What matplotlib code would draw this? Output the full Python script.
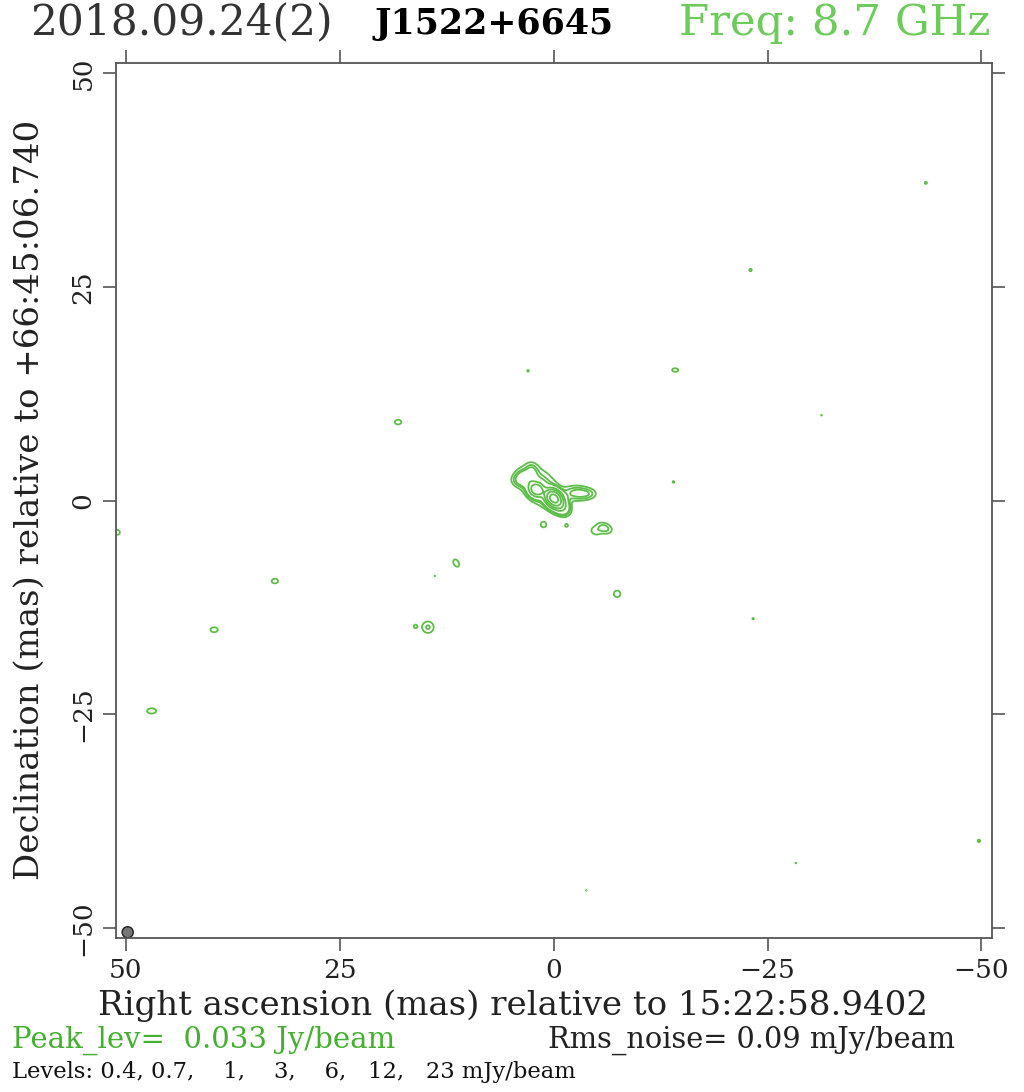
import numpy as np
import matplotlib.pyplot as plt
from matplotlib.patches import Ellipse

# contour levels (mJy/beam)
levels = [0.4, 0.7, 1, 3, 6, 12, 23]

# gaussian components of the map: offsets in mas, peak in mJy/beam, FWHM in mas, angle in deg
comp_x = [0.0, -0.6, 2.0, 3.2, 1.6, 2.6, 4.0, -2.6, -4.0, 1.2, -1.5, -5.9, -4.8,
          -43.5, -23.0, 3.0, -14.2, 18.2, -31.3, -14.0, 51.0, 11.4, 13.9, 32.6,
          -7.4, 39.7, 16.2, 14.7, -23.3, 47.0, -49.7, -28.3, -3.8]
comp_y = [0.3, -0.4, 1.3, 2.6, 1.6, 3.5, 2.4, 0.9, 0.8, -2.8, -2.9, -3.2, -3.6,
          37.2, 27.0, 15.2, 15.3, 9.2, 10.0, 2.2, -3.7, -7.3, -8.8, -9.4,
          -10.9, -15.1, -14.7, -14.8, -13.8, -24.6, -39.8, -42.4, -45.6]
comp_peak = [30.0, 5.0, 10.0, 1.6, 1.2, 0.7, 0.8, 1.1, 0.65, 0.55, 0.43, 0.9, 0.5,
             0.43, 0.44, 0.42, 0.48, 0.55, 0.41, 0.42, 0.5, 0.6, 0.41, 0.55,
             0.6, 0.57, 0.44, 0.75, 0.42, 0.6, 0.44, 0.41, 0.41]
comp_maj = [1.4, 1.8, 1.3, 1.5, 4.6, 1.4, 1.5, 2.4, 1.8, 0.9, 0.8, 1.7, 1.2,
            0.8, 0.8, 0.8, 1.4, 1.1, 0.6, 0.8, 1.0, 1.2, 0.6, 1.1,
            1.0, 1.2, 0.8, 1.4, 0.7, 1.4, 0.8, 0.6, 0.6]
comp_min = [1.1, 1.2, 1.1, 1.2, 2.8, 1.1, 1.2, 1.4, 1.1, 0.9, 0.8, 1.1, 0.9,
            0.8, 0.8, 0.8, 0.8, 0.8, 0.6, 0.8, 1.0, 0.8, 0.6, 0.8,
            1.0, 0.8, 0.8, 1.4, 0.7, 0.8, 0.8, 0.6, 0.6]
comp_ang = [45, 45, 30, 30, 45, 90, 0, 0, 0, 0, 0, 20, 30,
            0, 0, 0, 0, 0, 0, 0, 0, 60, 0, 0,
            0, 0, 0, 0, 0, 0, 0, 0, 0]

# map grid
x = np.linspace(-52, 52, 1301)
y = np.linspace(-52, 52, 1301)
X, Y = np.meshgrid(x, y)
img = np.zeros_like(X)
for cx, cy, p, a, b, ang in zip(comp_x, comp_y, comp_peak, comp_maj, comp_min, comp_ang):
    t = np.deg2rad(ang)
    dx = X - cx
    dy = Y - cy
    u = dx * np.cos(t) + dy * np.sin(t)
    v = -dx * np.sin(t) + dy * np.cos(t)
    sa = a / 2.3548
    sb = b / 2.3548
    img += p * np.exp(-0.5 * ((u / sa) ** 2 + (v / sb) ** 2))

green = '#5cbd48'
serif = ['DejaVu Serif']

fig = plt.figure(figsize=(10.24, 10.92), dpi=100)
ax = fig.add_axes([0.113, 0.1408, 0.8555, 0.8013])
ax.contour(X, Y, img, levels=levels, colors=green, linewidths=1.3)

# beam
ax.add_patch(Ellipse((49.8, -50.5), 1.3, 1.3, facecolor='#777777', edgecolor='#222222', lw=1))

ax.set_xlim(51.2, -51.2)
ax.set_ylim(-51.2, 51.2)
ticks = [50, 25, 0, -25, -50]
ax.set_xticks(ticks)
ax.set_yticks(ticks)
ax.set_xticklabels(['50', '25', '0', '\u221225', '\u221250'], family=serif, fontsize=19, color='#222222')
ax.set_yticklabels(['50', '25', '0', '\u221225', '\u221250'], family=serif, fontsize=19, color='#222222',
                   rotation=90, va='center')
ax.tick_params(axis='both', which='both', direction='out', length=9.5, width=1.2, color='#555555',
               top=True, right=True, labeltop=False, labelright=False)
ax.tick_params(axis='x', pad=5)
ax.tick_params(axis='y', pad=5)
for s in ax.spines.values():
    s.set_color('#555555')
    s.set_linewidth(1.3)

fig.text(0.501, 0.0788, 'Right ascension (mas) relative to 15:22:58.9402', family=serif,
         fontsize=24.5, ha='center', va='center', color='#222222')
fig.text(0.029, 0.542, 'Declination (mas) relative to +66:45:06.740', family=serif,
         fontsize=24.5, ha='center', va='center', rotation=90, color='#222222')

fig.text(0.029, 0.979, '2018.09.24(2)', family=serif, fontsize=30.5, color='#333333', ha='left', va='center')
fig.text(0.366, 0.978, 'J1522+6645', family=serif, fontsize=25, fontweight='bold', color='black',
         ha='left', va='center')
fig.text(0.967, 0.979, 'Freq: 8.7 GHz', family=serif, fontsize=31.3, color='#6ccb5a', ha='right', va='center')

fig.text(0.012, 0.0476, 'Peak_lev=  0.033 Jy/beam', family=serif, fontsize=21, color='#44b030',
         ha='left', va='center')
fig.text(0.535, 0.0476, 'Rms_noise= 0.09 mJy/beam', family=serif, fontsize=20.8, color='#222222',
         ha='left', va='center')
fig.text(0.012, 0.0183, 'Levels: 0.4, 0.7,    1,    3,    6,   12,   23 mJy/beam', family=serif,
         fontsize=16.3, color='#111111', ha='left', va='center')

plt.savefig('out.png', dpi=100)
